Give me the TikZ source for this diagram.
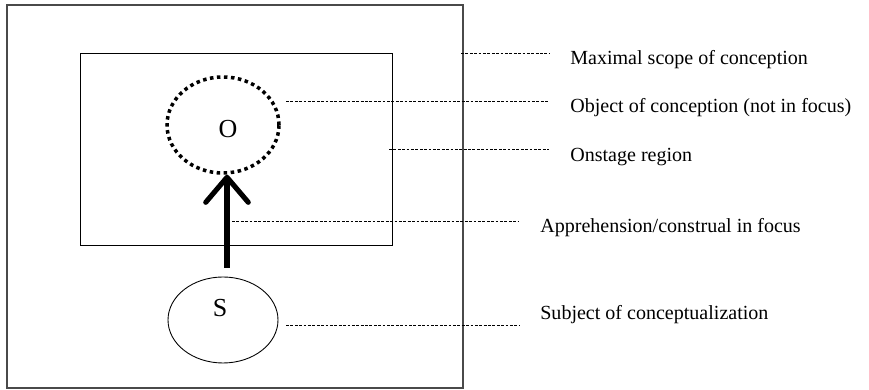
\documentclass[tikz,border=0pt]{standalone}
\usepackage{fontspec}
\setmainfont{Liberation Serif}
\usepackage{xcolor}
\usepackage{tikz}
\usetikzlibrary{calc,arrows.meta,shapes.geometric}
\definecolor{ink}{HTML}{000000}
\definecolor{frame}{HTML}{4A4A4A}
\tikzset{
  scopebox/.style={draw=frame, line width=0.7pt},
  stagebox/.style={draw=ink, line width=0.5pt},
  focus/.style={ellipse, draw=ink, line width=2pt, dash pattern=on 2pt off 2pt, minimum width=2.24cm, minimum height=1.92cm, inner sep=0pt},
  subj/.style={ellipse, draw=ink, line width=0.5pt, minimum width=2.2cm, minimum height=1.72cm, inner sep=0pt},
  big/.style={text=ink, font=\fontsize{14.8}{17}\selectfont},
  lead/.style={draw=ink, line width=0.4pt, dash pattern=on 1.6pt off 0.9pt},
  grasp/.style={draw=ink, line width=2.9pt, -{Straight Barb[length=5mm, width=8.5mm, line width=2.9pt, round]}},
  lab/.style={text=ink, anchor=west, inner sep=0pt, font=\fontsize{11.4}{13}\selectfont},
}
\begin{document}
\begin{tikzpicture}
  \useasboundingbox (0,0) rectangle (17.38,7.8);

  % boxes
  \draw[scopebox] (0.14,0.04) rectangle (9.26,7.7);
  \draw[stagebox] (1.6,2.9) rectangle (7.84,6.74);

  % object and subject
  \node[focus] (O) at (4.46,5.3) {};
  \node[big] at (4.56,5.22) {O};
  \node[subj] (S) at (4.46,1.4) {};
  \node[big] at (4.4,1.64) {S};

  \draw[grasp] ([xshift=0.08cm,yshift=0.18cm]S.north) -- ([xshift=0.08cm]O.south);

  % labels
  \node[lab] (lmax) at (11.4,6.6) {Maximal scope of conception};
  \node[lab] (lobj) at (11.4,5.64) {Object of conception (not in focus)};
  \node[lab] (lstage) at (11.4,4.66) {Onstage region};
  \node[lab] (lgrasp) at (10.8,3.24) {Apprehension/construal in focus};
  \node[lab] (lsubj) at (10.8,1.5) {Subject of conceptualization};

  % leader lines
  \coordinate (a1) at (9.22,6.74);
  \coordinate (a2) at (5.72,5.78);
  \coordinate (a3) at (7.78,4.82);
  \coordinate (a4) at (4.64,3.38);
  \coordinate (a5) at (5.72,1.3);
  \draw[lead] (a1) -- (a1 -| 10.98,0);
  \draw[lead] (a2) -- (a2 -| 10.98,0);
  \draw[lead] (a3) -- (a3 -| 10.98,0);
  \draw[lead] (a4) -- (a4 -| 10.38,0);
  \draw[lead] (a5) -- (a5 -| 10.4,0);
\end{tikzpicture}
\end{document}
